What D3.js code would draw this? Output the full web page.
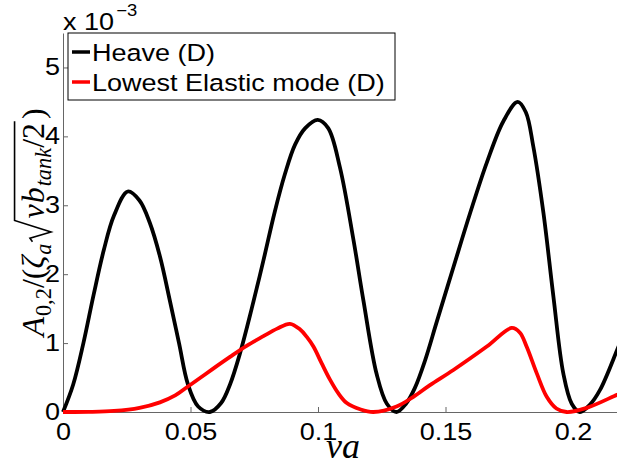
<!DOCTYPE html>
<html>
<head>
<meta charset="utf-8">
<script src="https://cdn.jsdelivr.net/npm/d3@7"></script>
<style>
  html, body { margin: 0; padding: 0; background: #fff; }
  svg { display: block; }
</style>
</head>
<body>
<svg id="chart" width="617" height="466" font-family="Liberation Sans, Arial, sans-serif"></svg>
<script>
// Response amplitude (units of 1e-3) against reduced frequency nu*a
const heaveNu = [0, 0.004, 0.008, 0.012, 0.016, 0.020, 0.0254, 0.030, 0.034, 0.038, 0.042, 0.0455, 0.049, 0.053, 0.0576,
  0.062, 0.0655, 0.0694, 0.074, 0.0786, 0.083, 0.087, 0.091, 0.095, 0.0999, 0.104, 0.1086, 0.1139, 0.1178, 0.123, 0.127, 0.1308,
  0.1345, 0.138, 0.142, 0.1465, 0.1531, 0.1596, 0.1662, 0.1727, 0.1783, 0.1815, 0.1844, 0.1884, 0.1923, 0.1962,
  0.1995, 0.2027, 0.2065, 0.2106, 0.2173, 0.220];
const heaveAmp = [0, 0.40, 1.00, 1.70, 2.35, 2.85, 3.20, 3.07, 2.75, 2.26, 1.60, 1.00, 0.40, 0.08, 0,
  0.13, 0.40, 0.85, 1.50, 2.20, 2.90, 3.45, 3.88, 4.12, 4.24, 4.12, 3.55, 2.50, 1.62, 0.55, 0.12, 0,
  0.12, 0.35, 0.75, 1.30, 2.10, 2.88, 3.62, 4.22, 4.50, 4.35, 3.86, 2.89, 1.68, 0.56,
  0.12, 0, 0.10, 0.32, 0.90, 1.15];

const elasticNu = [0, 0.010, 0.020, 0.030, 0.038, 0.044, 0.049, 0.054, 0.0589, 0.0655, 0.072, 0.0786, 0.084,
  0.089, 0.0929, 0.0956, 0.0982, 0.1014, 0.1047, 0.108, 0.1113, 0.1165, 0.1217, 0.1308, 0.1374, 0.1439, 0.1531,
  0.1662, 0.176, 0.1792, 0.1818, 0.1858, 0.1897, 0.1935, 0.1975, 0.2054, 0.2173, 0.220];
const elasticAmp = [0, 0.002, 0.015, 0.06, 0.14, 0.24, 0.37, 0.50, 0.63, 0.80, 0.96, 1.10, 1.21,
  1.28, 1.20, 1.09, 0.95, 0.71, 0.47, 0.27, 0.13, 0.04, 0, 0.08, 0.22, 0.39, 0.61,
  0.95, 1.22, 1.15, 0.95, 0.56, 0.22, 0.05, 0, 0.06, 0.25, 0.29];

const xTicks = [0, 0.05, 0.1, 0.15, 0.2];
const yTicks = [0, 1, 2, 3, 4, 5];
const seriesNames = ["Heave (D)", "Lowest Elastic mode (D)"];
const seriesColors = ["#000000", "#ff0000"];

const svg = d3.select("#chart");
const plotLeft = 63, plotBottom = 412, plotTop = 33, plotRight = 624;
const stretch = 1.15; // horizontal widening of the sans glyphs
const sans = "Liberation Sans, Arial, sans-serif";
const serif = "Liberation Serif, Times New Roman, serif";

const x = d3.scaleLinear().domain([0, 0.22]).range([plotLeft, plotRight]);
const y = d3.scaleLinear().domain([0, 5.5]).range([plotBottom, plotTop]);

// axes (box off, ticks pointing inward)
const xAxis = d3.axisBottom(x).tickValues(xTicks).tickFormat(d3.format("")).tickSizeInner(-5).tickSizeOuter(0).tickPadding(11);
const yAxis = d3.axisLeft(y).tickValues(yTicks).tickFormat(d3.format("d")).tickSizeInner(-5).tickSizeOuter(0).tickPadding(3);

const gx = svg.append("g").attr("transform", `translate(0,${plotBottom})`).call(xAxis);
const gy = svg.append("g").attr("transform", `translate(${plotLeft},0)`).call(yAxis);
[gx, gy].forEach(g => {
  g.attr("font-family", sans);
  g.select(".domain").attr("stroke", "#666").attr("stroke-width", 1);
  g.selectAll(".tick line").attr("stroke", "#666").attr("stroke-width", 1);
  g.selectAll(".tick text")
    .attr("font-size", 23.5)
    .attr("fill", "#000")
    .attr("transform", `scale(${stretch},1)`);
});
gx.selectAll(".tick text").attr("x", 0);
gy.selectAll(".tick text").attr("x", -3 / stretch);

// exponent multiplier above the y axis
const expo = svg.append("text").attr("transform", `translate(${plotLeft},30) scale(${stretch},1)`).attr("font-size", 23.5);
expo.append("tspan").text("x 10");
expo.append("tspan").attr("font-size", 16).attr("dy", -14).attr("dx", 2).text("\u22123");

// data lines
const line = d3.line().x(d => x(d[0])).y(d => y(d[1])).curve(d3.curveCatmullRom.alpha(0.5));
const seriesData = [
  d3.zip(heaveNu, heaveAmp),
  d3.zip(elasticNu, elasticAmp)
];
seriesData.forEach((pts, i) => {
  svg.append("path")
    .datum(pts)
    .attr("d", line)
    .attr("fill", "none")
    .attr("stroke", seriesColors[i])
    .attr("stroke-width", 3.8)
    .attr("stroke-linejoin", "round");
});

// legend
const legend = svg.append("g");
legend.append("rect").attr("x", 68).attr("y", 33).attr("width", 327).attr("height", 67)
  .attr("fill", "#fff").attr("stroke", "#000").attr("stroke-width", 1);
seriesNames.forEach((name, i) => {
  const cy = 52 + i * 30;
  legend.append("line").attr("x1", 72).attr("x2", 90).attr("y1", cy).attr("y2", cy)
    .attr("stroke", seriesColors[i]).attr("stroke-width", 3.5);
  legend.append("text").attr("transform", `translate(92,${cy + 8.5}) scale(${stretch},1)`)
    .attr("font-size", 23.5).text(name);
});

// x label: nu a
svg.append("text")
  .attr("x", 343).attr("y", 458)
  .attr("text-anchor", "middle")
  .attr("font-family", serif)
  .attr("font-style", "italic")
  .attr("font-size", 36)
  .text("\u03BDa");

// y label: A_{0,2} / (zeta_a sqrt(nu b_tank / 2)), typeset piece by piece
const fs = 32;
const ylab = svg.append("g");
const pieces = [
  { t: "A", it: true }, { t: "0,2", sub: true }, { t: "/(" }, { t: "\u03B6", it: true }, { t: "a", it: true, sub: true },
  { rad: "start" }, { t: "\u03BD", it: true }, { t: "b", it: true }, { t: "tank", it: true, sub: true }, { t: "/2" },
  { rad: "end" }, { t: ")" }
];
let cx = 0, radStart = 0;
pieces.forEach(p => {
  if (p.rad === "start") { radStart = cx; cx += 0.78 * fs; return; }
  if (p.rad === "end") {
    const e = 0.92 * fs;
    ylab.append("path")
      .attr("d", `M${radStart + 0.05 * fs},${-0.36 * fs} L${radStart + 0.16 * fs},${-0.44 * fs} L${radStart + 0.36 * fs},${0.22 * fs} L${radStart + 0.72 * fs},${-e} L${cx + 0.05 * fs},${-e}`)
      .attr("fill", "none").attr("stroke", "#000").attr("stroke-width", 1.6).attr("stroke-linejoin", "miter");
    cx += 0.12 * fs;
    return;
  }
  const size = p.sub ? fs * 0.7 : fs;
  const t = ylab.append("text")
    .attr("x", cx).attr("y", p.sub ? 0.22 * fs : 0)
    .attr("font-family", serif)
    .attr("font-style", p.it ? "italic" : "normal")
    .attr("font-size", size)
    .text(p.t);
  cx += t.node().getComputedTextLength() + (p.it && !p.sub ? 0.03 * fs : 0);
});
const labLen = cx;
const labCenter = (plotTop + plotBottom) / 2;
ylab.attr("transform", `translate(44,${labCenter + labLen / 2}) rotate(-90)`);
</script>
</body>
</html>
